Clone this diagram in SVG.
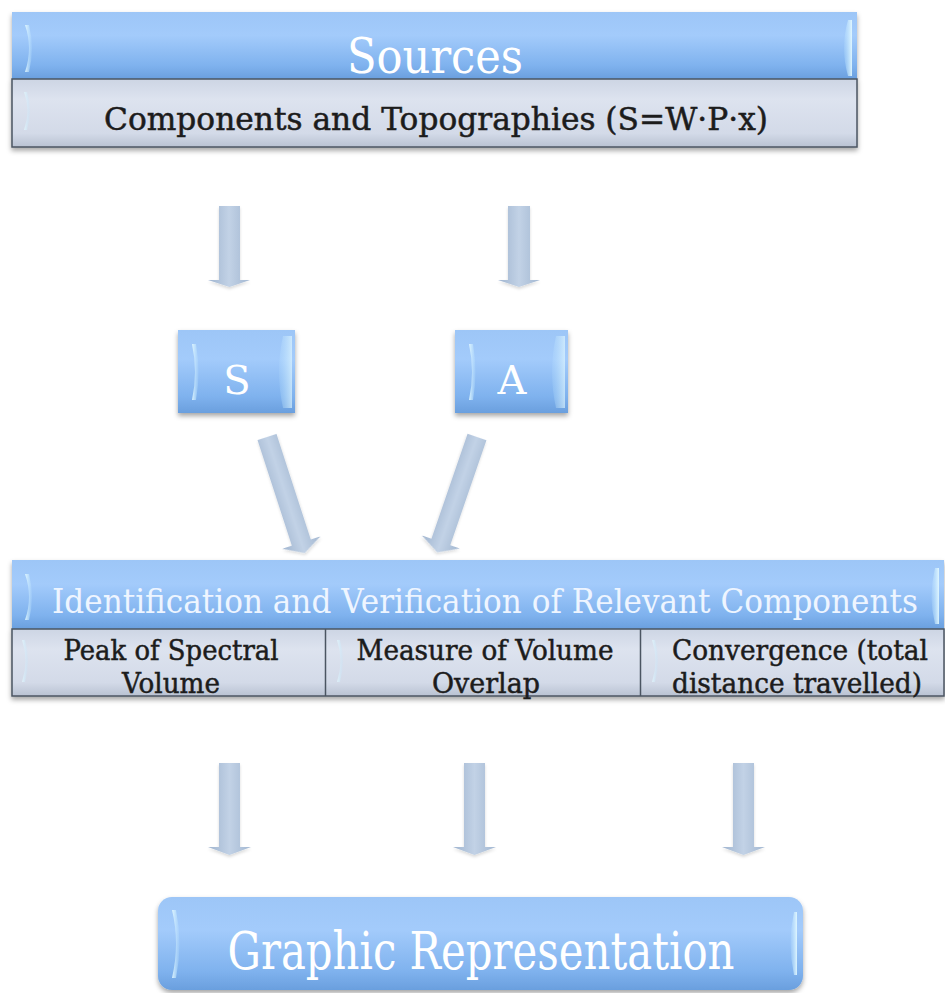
<svg xmlns="http://www.w3.org/2000/svg" width="945" height="993" viewBox="0 0 945 993">
<defs>
<linearGradient id="blue" x1="0" y1="0" x2="0" y2="1">
<stop offset="0" stop-color="#9dc6f7"/>
<stop offset="0.35" stop-color="#a3cbfb"/>
<stop offset="0.8" stop-color="#7fb2ee"/>
<stop offset="1" stop-color="#6a9fde"/>
</linearGradient>
<linearGradient id="gray" x1="0" y1="0" x2="0" y2="1">
<stop offset="0" stop-color="#cdd5e4"/>
<stop offset="0.3" stop-color="#dde3ef"/>
<stop offset="0.8" stop-color="#d3dae8"/>
<stop offset="1" stop-color="#b9c2d2"/>
</linearGradient>
<linearGradient id="arrow" x1="0" y1="0" x2="1" y2="0">
<stop offset="0" stop-color="#9fb4cf"/>
<stop offset="0.5" stop-color="#c2d2e6"/>
<stop offset="1" stop-color="#a2b7d1"/>
</linearGradient>
<linearGradient id="hl" x1="0" y1="0" x2="1" y2="0">
<stop offset="0" stop-color="#e6fbff" stop-opacity="0.9"/>
<stop offset="1" stop-color="#bfe6ff" stop-opacity="0.2"/>
</linearGradient>
<linearGradient id="hr" x1="1" y1="0" x2="0" y2="0">
<stop offset="0" stop-color="#e6fbff" stop-opacity="0.9"/>
<stop offset="1" stop-color="#bfe6ff" stop-opacity="0.2"/>
</linearGradient>
<filter id="sh" x="-5%" y="-10%" width="110%" height="130%">
<feDropShadow dx="0" dy="3" stdDeviation="2.5" flood-color="#000" flood-opacity="0.35"/>
</filter>
<filter id="ash" x="-30%" y="-10%" width="160%" height="130%">
<feDropShadow dx="0" dy="2" stdDeviation="1.5" flood-color="#000" flood-opacity="0.15"/>
</filter>
</defs>
<style>
text{font-family:"DejaVu Serif","Liberation Serif",serif;text-anchor:middle}
.w{fill:#ffffff}
.lw{fill:#eef5ff}
.d{fill:#1c1c1c;stroke:#1c1c1c;stroke-width:0.5}
.band{fill:url(#gray);stroke:#4b5562;stroke-width:1.5}
.blue{fill:url(#blue)}
.ar{fill:url(#arrow);filter:url(#ash)}
.hl{fill:url(#hl)}
.hr{fill:url(#hr)}
</style>

<g id="connectors">
<polygon class="ar" points="219,206 240,206 240,280 250,280 229.5,287 208,280 219,280"/>
<polygon class="ar" points="508,206 530,206 530,280 540,280 519,287 498,280 508,280"/>
<g transform="translate(267,437) rotate(-18)"><polygon class="ar" points="-10,0 10,0 10,111 20,111 0,122 -20,111 -10,111"/></g>
<g transform="translate(477,437) rotate(19)"><polygon class="ar" points="-10,0 10,0 10,111 20,111 0,122 -20,111 -10,111"/></g>
<polygon class="ar" points="219,763 240,763 240,847 251,847 229.5,855 208,847 219,847"/>
<polygon class="ar" points="464,763 485,763 485,847 496,847 474.5,855 453,847 464,847"/>
<polygon class="ar" points="733,763 754,763 754,847 765,847 743.5,855 722,847 733,847"/>
</g>

<g id="sources">
<g filter="url(#sh)">
<rect class="blue" x="12" y="12" width="845" height="67"/>
<rect class="band" x="12" y="79" width="845" height="68"/>
</g>
<path class="hl" d="M25,25 Q33,48 25,72 L29,72 Q35,48 29,25 Z"/>
<path class="hr" d="M848,20 Q840,48 848,76 L852,76 L852,20 Z"/>
<path class="hl" d="M24,92 Q31,110 24,130 L27,130 Q33,110 27,92 Z" opacity="0.8"/>
<text class="w" x="435" y="73" font-size="48" textLength="176" lengthAdjust="spacingAndGlyphs">Sources</text>
<text class="d" x="436" y="130" font-size="31" textLength="664" lengthAdjust="spacingAndGlyphs">Components and Topographies (S=W·P·x)</text>
</g>

<g id="s">
<rect class="blue" x="178" y="330" width="117" height="83" filter="url(#sh)"/>
<path class="hl" d="M192,344 Q198,372 192,400 L196,400 Q201,372 196,344 Z"/>
<path class="hr" d="M283,336 Q275,372 283,408 L292,408 L292,336 Z" opacity="0.7"/>
<text class="w" x="237" y="394" font-size="40">S</text>
</g>

<g id="a">
<rect class="blue" x="455" y="330" width="113" height="83" filter="url(#sh)"/>
<path class="hl" d="M469,344 Q475,372 469,400 L473,400 Q478,372 473,344 Z"/>
<path class="hr" d="M556,336 Q548,372 556,408 L565,408 L565,336 Z" opacity="0.7"/>
<text class="w" x="512" y="394" font-size="40">A</text>
</g>

<g id="identification">
<g filter="url(#sh)">
<rect class="blue" x="12" y="560" width="932" height="69"/>
<rect class="band" x="12" y="629" width="932" height="67"/>
</g>
<line x1="325.5" y1="629" x2="325.5" y2="696" stroke="#4b5562" stroke-width="1.5"/>
<line x1="640.5" y1="629" x2="640.5" y2="696" stroke="#4b5562" stroke-width="1.5"/>
<path class="hl" d="M25,574 Q33,597 25,620 L29,620 Q35,597 29,574 Z"/>
<path class="hr" d="M935,568 Q928,597 935,624 L939,624 L939,568 Z"/>
<path class="hl" d="M22,640 Q29,660 22,682 L25,682 Q31,660 25,640 Z" opacity="0.8"/>
<path class="hl" d="M337,640 Q344,660 337,682 L340,682 Q346,660 340,640 Z" opacity="0.8"/>
<path class="hl" d="M652,640 Q659,660 652,682 L655,682 Q661,660 655,640 Z" opacity="0.8"/>
<text class="lw" transform="translate(485,613) scale(0.82,1)" x="0" y="0" font-size="33" textLength="1056" lengthAdjust="spacingAndGlyphs">Identification and Verification of Relevant Components</text>
<text class="d" x="171" y="660" font-size="28" textLength="215" lengthAdjust="spacingAndGlyphs">Peak of Spectral</text>
<text class="d" x="171" y="693" font-size="28" textLength="98" lengthAdjust="spacingAndGlyphs">Volume</text>
<text class="d" x="485" y="660" font-size="28" textLength="257" lengthAdjust="spacingAndGlyphs">Measure of Volume</text>
<text class="d" x="486" y="693" font-size="28" textLength="108" lengthAdjust="spacingAndGlyphs">Overlap</text>
<text class="d" x="800" y="660" font-size="28" textLength="256" lengthAdjust="spacingAndGlyphs">Convergence (total</text>
<text class="d" x="797" y="693" font-size="28" textLength="250" lengthAdjust="spacingAndGlyphs">distance travelled)</text>
</g>

<g id="graphic">
<rect class="blue" x="158" y="897" width="645" height="93" rx="14" filter="url(#sh)"/>
<path class="hl" d="M172,910 Q180,943 172,978 L176,978 Q183,943 176,910 Z"/>
<path class="hr" d="M794,912 Q787,943 794,975 L797,975 L797,912 Z"/>
<text class="w" x="481" y="969" font-size="52" textLength="507" lengthAdjust="spacingAndGlyphs">Graphic Representation</text>
</g>
</svg>
